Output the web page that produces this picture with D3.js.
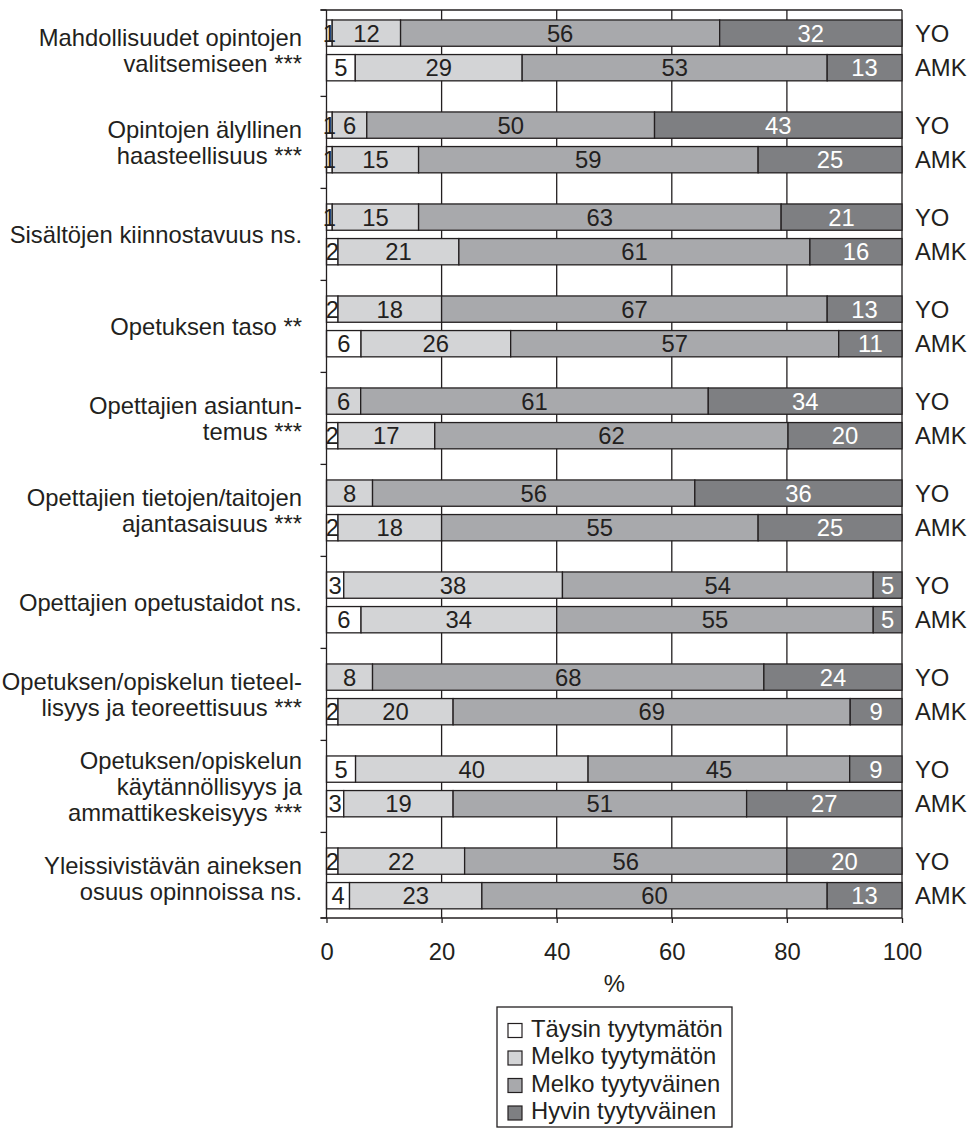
<!DOCTYPE html>
<html>
<head>
<meta charset="utf-8">
<script src="https://cdn.jsdelivr.net/npm/d3@7"></script>
<style>
  body { margin: 0; background: #fff; }
  svg { display: block; font-family: "Liberation Sans", Arial, sans-serif; }
</style>
</head>
<body>
<div id="chart"></div>
<script>
// categories (label lines) and the two groups
let categories = [
  ["Mahdollisuudet opintojen", "valitsemiseen ***"],
  ["Opintojen älyllinen", "haasteellisuus ***"],
  ["Sisältöjen kiinnostavuus ns."],
  ["Opetuksen taso **"],
  ["Opettajien asiantun-", "temus ***"],
  ["Opettajien tietojen/taitojen", "ajantasaisuus ***"],
  ["Opettajien opetustaidot ns."],
  ["Opetuksen/opiskelun tieteel-", "lisyys ja teoreettisuus ***"],
  ["Opetuksen/opiskelun", "käytännöllisyys ja", "ammattikeskeisyys ***"],
  ["Yleissivistävän aineksen", "osuus opinnoissa ns."]
];
let groups = ["YO", "AMK"];
let answers = ["Täysin tyytymätön", "Melko tyytymätön", "Melko tyytyväinen", "Hyvin tyytyväinen"];

// values per answer, [YO, AMK] for each category
let taysinTyytymaton = [[1, 5], [1, 1], [1, 2], [2, 6], [0, 2], [0, 2], [3, 6], [0, 2], [5, 3], [2, 4]];
let melkoTyytymaton = [[12, 29], [6, 15], [15, 21], [18, 26], [6, 17], [8, 18], [38, 34], [8, 20], [40, 19], [22, 23]];
let melkoTyytyvainen = [[56, 53], [50, 59], [63, 61], [67, 57], [61, 62], [56, 55], [54, 55], [68, 69], [45, 51], [56, 60]];
let hyvinTyytyvainen = [[32, 13], [43, 25], [21, 16], [13, 11], [34, 20], [36, 25], [5, 5], [24, 9], [9, 27], [20, 13]];

let xTicks = [0, 20, 40, 60, 80, 100];

let colors = ["#ffffff", "#d3d4d6", "#a8a9ac", "#7e7f82"];
let textColors = ["#231f20", "#231f20", "#231f20", "#ffffff"];
let lineColor = "#231f20";
let fontSize = 23.8;

// one row per bar
let rows = [];
categories.forEach((c, i) => {
  groups.forEach((g, j) => {
    rows.push({
      cat: i,
      group: g,
      "Täysin tyytymätön": taysinTyytymaton[i][j],
      "Melko tyytymätön": melkoTyytymaton[i][j],
      "Melko tyytyväinen": melkoTyytyvainen[i][j],
      "Hyvin tyytyväinen": hyvinTyytyvainen[i][j]
    });
  });
});

// 100% stacked like the original
let series = d3.stack().keys(answers).offset(d3.stackOffsetExpand)(rows);

let width = 969, height = 1130;
let plot = { left: 326.5, right: 902, top: 10, bottom: 918 };

let svg = d3
  .select("#chart")
  .append("svg")
  .attr("width", width)
  .attr("height", height);

let x = d3.scaleLinear().domain([0, 1]).range([plot.left, plot.right]);
let xPct = d3.scaleLinear().domain([0, 100]).range([plot.left, plot.right]);

// bands run a few px past the frame, as in the source picture
let y = d3
  .scaleBand()
  .domain(d3.range(categories.length))
  .range([4.4, 924.4]);

let yInner = d3
  .scaleBand()
  .domain(groups)
  .range([0, y.bandwidth()])
  .paddingInner(0.24)
  .paddingOuter(0.45);

// gridlines
svg
  .append("g")
  .selectAll("line")
  .data(xTicks.slice(1))
  .enter()
  .append("line")
  .attr("x1", (d) => xPct(d))
  .attr("x2", (d) => xPct(d))
  .attr("y1", plot.top)
  .attr("y2", plot.bottom)
  .attr("stroke", lineColor)
  .attr("stroke-width", 1.3);

// top border
svg
  .append("line")
  .attr("x1", plot.left - 6)
  .attr("x2", plot.right)
  .attr("y1", plot.top)
  .attr("y2", plot.top)
  .attr("stroke", lineColor)
  .attr("stroke-width", 1.3);

// bars
let layer = svg
  .append("g")
  .selectAll("g")
  .data(series)
  .enter()
  .append("g")
  .attr("fill", (d, i) => colors[i]);

layer
  .selectAll("rect")
  .data((d) => d.filter((s) => s[1] - s[0] > 0))
  .enter()
  .append("rect")
  .attr("x", (d) => x(d[0]))
  .attr("width", (d) => x(d[1]) - x(d[0]))
  .attr("y", (d) => y(d.data.cat) + yInner(d.data.group))
  .attr("height", yInner.bandwidth())
  .attr("stroke", lineColor)
  .attr("stroke-width", 1.3);

// value labels
series.forEach((s, i) => {
  svg
    .append("g")
    .selectAll("text")
    .data(s.filter((d) => d.data[s.key] > 0))
    .enter()
    .append("text")
    .attr("x", (d) => (x(d[0]) + x(d[1])) / 2)
    .attr("y", (d) => y(d.data.cat) + yInner(d.data.group) + yInner.bandwidth() / 2)
    .attr("dy", "0.36em")
    .attr("text-anchor", "middle")
    .attr("font-size", fontSize)
    .attr("fill", textColors[i])
    .text((d) => d.data[s.key]);
});

// left axis with ticks between the categories
let yEdges = [plot.top].concat(d3.range(1, categories.length).map((i) => y(i)), [plot.bottom]);
svg
  .append("line")
  .attr("x1", plot.left)
  .attr("x2", plot.left)
  .attr("y1", plot.top)
  .attr("y2", plot.bottom)
  .attr("stroke", lineColor)
  .attr("stroke-width", 1.3);
svg
  .append("g")
  .selectAll("line")
  .data(yEdges)
  .enter()
  .append("line")
  .attr("x1", plot.left - 6)
  .attr("x2", plot.left)
  .attr("y1", (d) => d)
  .attr("y2", (d) => d)
  .attr("stroke", lineColor)
  .attr("stroke-width", 1.3);

// bottom axis
let xAxis = svg
  .append("g")
  .attr("transform", `translate(0,${plot.bottom})`)
  .call(d3.axisBottom(xPct).tickValues(xTicks).tickSize(5).tickPadding(20));
xAxis.select(".domain").attr("stroke", lineColor).attr("stroke-width", 1.3).attr("d", `M${plot.left - 6},0H${plot.right}`);
xAxis.selectAll(".tick line").attr("stroke", lineColor).attr("stroke-width", 1.3);
xAxis
  .selectAll(".tick text")
  .attr("font-size", fontSize)
  .attr("font-family", "Liberation Sans, Arial, sans-serif")
  .attr("fill", lineColor);

svg
  .append("text")
  .attr("x", xPct(50))
  .attr("y", 992)
  .attr("text-anchor", "middle")
  .attr("font-size", fontSize)
  .attr("fill", lineColor)
  .text("%");

// category labels
categories.forEach((lines, i) => {
  let cy = y(i) + y.bandwidth() / 2;
  let t = svg
    .append("text")
    .attr("text-anchor", "end")
    .attr("font-size", fontSize)
    .attr("fill", lineColor);
  lines.forEach((line, k) => {
    t.append("tspan")
      .attr("x", 302)
      .attr("y", cy + (k - (lines.length - 1) / 2) * 26)
      .attr("dy", "0.36em")
      .text(line);
  });
});

// group labels on the right
svg
  .append("g")
  .selectAll("text")
  .data(rows)
  .enter()
  .append("text")
  .attr("x", 915)
  .attr("y", (d) => y(d.cat) + yInner(d.group) + yInner.bandwidth() / 2)
  .attr("dy", "0.36em")
  .attr("font-size", fontSize)
  .attr("fill", lineColor)
  .text((d) => d.group);

// legend
let legend = svg.append("g").attr("transform", "translate(497,1007)");
legend
  .append("rect")
  .attr("width", 235)
  .attr("height", 120)
  .attr("fill", "#fff")
  .attr("stroke", lineColor)
  .attr("stroke-width", 1.3);
let item = legend
  .selectAll(".item")
  .data(answers)
  .enter()
  .append("g")
  .attr("class", "item")
  .attr("transform", (d, i) => `translate(11,${29.5 + i * 27.5})`);
item
  .append("rect")
  .attr("y", -13)
  .attr("width", 14)
  .attr("height", 14)
  .attr("fill", (d, i) => colors[i])
  .attr("stroke", lineColor)
  .attr("stroke-width", 1.2);
item
  .append("text")
  .attr("x", 23)
  .attr("font-size", fontSize)
  .attr("fill", lineColor)
  .text((d) => d);
</script>
</body>
</html>
